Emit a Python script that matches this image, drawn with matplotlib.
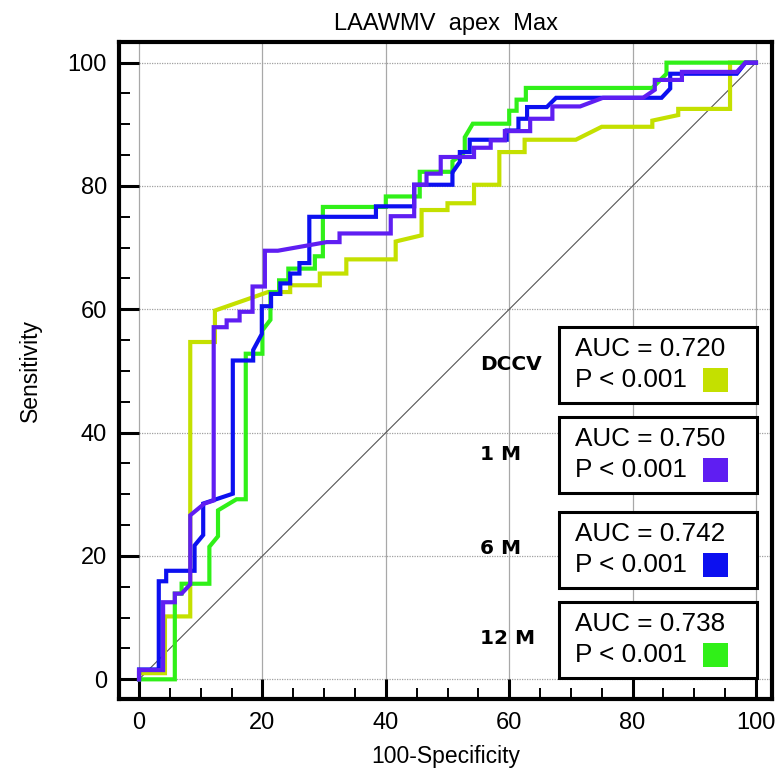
import matplotlib
matplotlib.use("Agg")
import matplotlib.pyplot as plt
from matplotlib.patches import Rectangle
from matplotlib.ticker import MultipleLocator

plt.rcParams['font.family'] = ['Liberation Sans', 'DejaVu Sans']

title = "LAAWMV  apex  Max"
xlabel = "100-Specificity"
ylabel = "Sensitivity"

# ROC curve vertices (100-Specificity, Sensitivity)
dccv_x = [0, 0, 4.2, 4.2, 8.3, 8.3, 12.3, 12.3, 20.9, 24.5, 24.5, 29.3, 29.3, 33.6, 33.6, 41.6, 41.6, 45.8,
          45.8, 50.0, 50.0, 54.3, 54.3, 58.4, 58.4, 62.5, 62.5, 70.8, 75.0, 83.2, 83.2, 87.4, 87.4, 95.8, 95.8, 100]
dccv_y = [0, 1.0, 1.0, 10.2, 10.2, 54.7, 54.7, 59.8, 62.8, 62.8, 63.9, 63.9, 65.8, 65.8, 68.1, 68.1, 71.0, 72.0,
          76.1, 76.1, 77.2, 77.2, 80.2, 80.2, 85.5, 85.5, 87.5, 87.5, 89.6, 89.6, 90.6, 91.5, 92.5, 92.5, 100, 100]

m1_x = [0, 0, 3.9, 3.9, 5.8, 5.8, 6.9, 8.3, 8.3, 10.6, 12.1, 12.1, 14.2, 14.2, 16.3, 16.3, 18.4, 18.4, 20.4,
        20.4, 22.5, 30.4, 32.5, 32.5, 40.8, 40.8, 44.6, 44.6, 46.6, 46.6, 48.9, 48.9, 54.3, 54.3, 57.0, 57.0,
        59.3, 59.3, 63.4, 63.4, 67.0, 67.0, 71.5, 75.2, 81.7, 83.6, 83.6, 88.0, 88.0, 96.9, 98.3, 100]
m1_y = [0, 1.5, 1.5, 12.5, 12.5, 13.9, 13.9, 15.4, 26.6, 28.5, 29.0, 57.1, 57.1, 58.2, 58.2, 59.6, 59.6, 63.7, 63.7,
        69.5, 69.5, 70.9, 70.9, 72.3, 72.3, 75.1, 75.1, 80.2, 80.2, 82.0, 82.0, 84.7, 84.7, 86.2, 86.2, 87.4,
        87.4, 88.9, 88.9, 90.9, 90.9, 92.9, 92.9, 94.3, 94.3, 95.6, 97.2, 97.2, 98.5, 98.5, 100, 100]

m6_x = [0, 0, 3.2, 3.2, 4.4, 4.4, 9.0, 9.0, 10.4, 10.4, 15.2, 15.2, 18.5, 18.5, 19.9, 19.9, 21.4, 21.4, 22.9,
        22.9, 24.5, 24.5, 26.0, 26.0, 27.6, 27.6, 38.4, 38.4, 44.6, 44.6, 50.8, 50.8, 52.0, 52.0, 53.6, 53.6,
        59.6, 59.6, 61.5, 61.5, 62.9, 62.9, 66.1, 67.6, 84.7, 86.1, 86.1, 96.9, 98.3, 100]
m6_y = [0, 1.6, 1.6, 15.9, 15.9, 17.6, 17.6, 21.7, 23.4, 28.5, 30.1, 51.7, 51.7, 53.4, 56.0, 60.5, 60.5, 62.5, 62.5,
        64.2, 64.2, 65.8, 65.8, 67.5, 67.5, 75.0, 75.0, 76.7, 76.7, 80.2, 80.2, 82.2, 83.9, 85.5, 85.5, 87.5,
        87.5, 89.0, 89.0, 90.9, 90.9, 92.8, 92.8, 94.3, 94.3, 95.8, 98.2, 98.2, 100, 100]

m12_x = [0, 5.8, 5.8, 6.9, 6.9, 11.4, 11.4, 12.8, 12.8, 15.8, 17.3, 17.3, 20.0, 20.0, 21.3, 21.3, 22.7, 22.7,
         24.2, 24.2, 28.5, 28.5, 29.8, 29.8, 40.0, 40.0, 45.5, 45.5, 50.8, 50.8, 52.8, 52.8, 54.1, 60.0, 60.0,
         61.2, 61.2, 62.7, 62.7, 83.2, 85.5, 85.5, 100]
m12_y = [0, 0, 13.9, 13.9, 15.5, 15.5, 21.5, 23.2, 27.4, 29.2, 29.2, 52.8, 52.8, 56.6, 58.3, 62.8, 62.8, 64.7,
         64.7, 66.6, 66.6, 68.6, 68.6, 76.6, 76.6, 78.3, 78.3, 82.3, 82.3, 84.0, 85.5, 87.9, 90.1, 90.1, 92.2,
         92.2, 94.0, 94.0, 95.9, 95.9, 98.2, 100, 100]

series_names = ["DCCV", "1 M", "6 M", "12 M"]
auc_values = ["0.720", "0.750", "0.742", "0.738"]
p_values = ["< 0.001", "< 0.001", "< 0.001", "< 0.001"]
colors = ["#c4e000", "#5f1ef2", "#0c10f0", "#30f018"]
curves = [(dccv_x, dccv_y), (m1_x, m1_y), (m6_x, m6_y), (m12_x, m12_y)]

W, H = 778, 772
fig = plt.figure(figsize=(W / 100, H / 100), dpi=100)
ax = fig.add_axes([119.3 / W, 1 - 699.3 / H, (772 - 119.3) / W, (699.3 - 42.3) / H])

ax.set_xlim(-3.2, 102.6)
ax.set_ylim(-3.24, 103.3)

for v in range(0, 101, 20):
    ax.axvline(v, color="#a8a8a8", lw=0.9, zorder=0)
    ax.axhline(v, color="#a0a0a0", lw=0.9, ls=(0, (1, 1)), zorder=0)

ax.plot([0, 100], [0, 100], color="#555555", lw=0.8, zorder=1)

draw_order = [0, 3, 2, 1]
for i in draw_order:
    cx, cy = curves[i]
    ax.plot(cx, cy, color=colors[i], lw=3.0, solid_joinstyle="miter", zorder=2)

ax.xaxis.set_major_locator(MultipleLocator(20))
ax.yaxis.set_major_locator(MultipleLocator(20))
ax.xaxis.set_minor_locator(MultipleLocator(5))
ax.yaxis.set_minor_locator(MultipleLocator(5))
ax.tick_params(which="major", direction="in", length=14.4, width=2.2, labelsize=17, pad=9, color="black")
ax.tick_params(which="minor", direction="in", length=8, width=1.4, color="black")
for s in ax.spines.values():
    s.set_linewidth(3)

ax.set_xlabel(xlabel, fontsize=16.5, labelpad=8)
ax.set_ylabel(ylabel, fontsize=16.5, labelpad=18)
ax.set_title(title, fontsize=17, pad=9)

# annotation boxes (figure pixel coordinates)
box_tops = [327, 417, 512, 602]
tf = fig.transFigure
for i in range(4):
    top = box_tops[i]
    fig.patches.append(Rectangle((559 / W, 1 - (top + 76) / H), 198 / W, 76 / H, transform=tf,
                                 fill=True, facecolor="white", edgecolor="black", lw=2.2, zorder=5))
    fig.text(575 / W, 1 - (top + 22) / H, "AUC = " + auc_values[i], fontsize=18.8, va="center", ha="left",
             zorder=10)
    fig.text(575 / W, 1 - (top + 53) / H, "P " + p_values[i], fontsize=18.8, va="center", ha="left",
             zorder=10)
    fig.patches.append(Rectangle((703 / W, 1 - (top + 65) / H), 25 / W, 24 / H, transform=tf,
                                 facecolor=colors[i], edgecolor="none", zorder=6))
    fig.text(480 / W, 1 - (top + 37) / H, series_names[i], fontsize=14.5, fontweight="bold",
             family="DejaVu Sans", va="center", ha="left", zorder=10)

fig.savefig("out.png", dpi=100)
